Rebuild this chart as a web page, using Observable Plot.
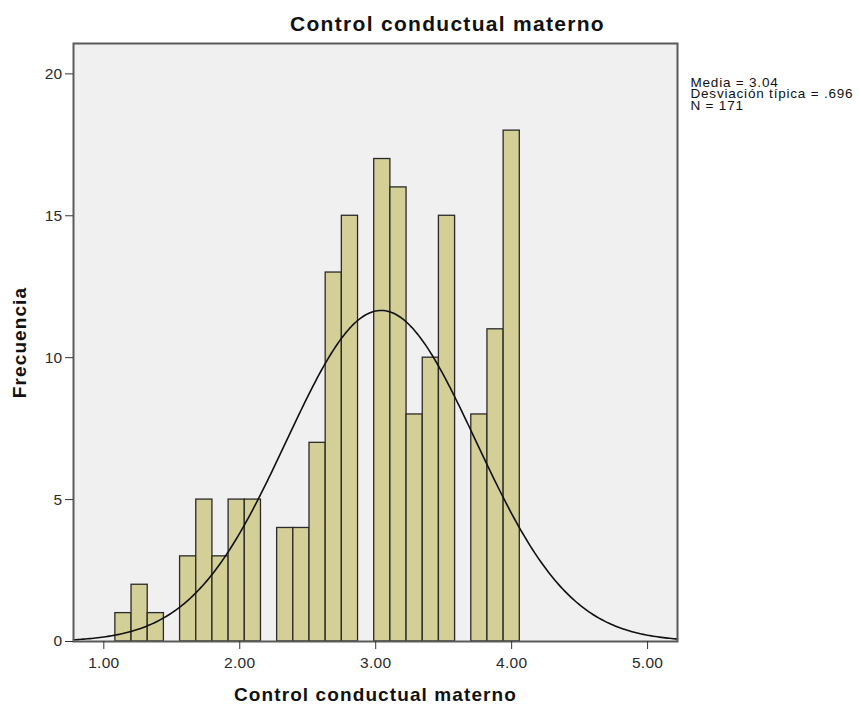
<!DOCTYPE html>
<html>
<head>
<meta charset="utf-8">
<script src="https://cdn.jsdelivr.net/npm/d3@7"></script>
<script src="https://cdn.jsdelivr.net/npm/@observablehq/plot@0.6"></script>
<style>
  body { margin: 0; background: #fff; }
  #chart { width: 859px; height: 706px; }
</style>
</head>
<body>
<div id="chart"></div>
<script>
// Bin edges and counts
const binStarts = [1.085, 1.204, 1.323, 1.442, 1.561, 1.680, 1.799, 1.918, 2.037, 2.156,
                   2.275, 2.394, 2.513, 2.632, 2.751, 2.870, 2.989, 3.108, 3.227, 3.346,
                   3.465, 3.584, 3.703, 3.822, 3.941];
const binEnds   = [1.204, 1.323, 1.442, 1.561, 1.680, 1.799, 1.918, 2.037, 2.156, 2.275,
                   2.394, 2.513, 2.632, 2.751, 2.870, 2.989, 3.108, 3.227, 3.346, 3.465,
                   3.584, 3.703, 3.822, 3.941, 4.060];
const counts    = [1, 2, 1, 0, 3, 5, 3, 5, 5, 0,
                   4, 4, 7, 13, 15, 0, 17, 16, 8, 10,
                   15, 0, 8, 11, 18];
const xTicks = [1, 2, 3, 4, 5];
const xTickLabels = ["1.00", "2.00", "3.00", "4.00", "5.00"];
const yTicks = [0, 5, 10, 15, 20];
const yTickLabels = ["0", "5", "10", "15", "20"];
const statsLines = ["Media = 3.04", "Desviación típica = .696", "N = 171"];
const mean = 3.04, sd = 0.696, N = 171;
const title = "Control conductual materno";
const xLabel = "Control conductual materno";
const yLabel = "Frecuencia";

const bars = counts.map((c, i) => ({x1: binStarts[i], x2: binEnds[i], y: c})).filter(d => d.y > 0);
const binWidth = (binEnds[binEnds.length - 1] - binStarts[0]) / counts.length;
const xDomain = [0.777, 5.22];
// fitted normal curve from the stated mean, sd and N
const curve = d3.range(0, 301).map(i => {
  const x = xDomain[0] + (xDomain[1] - xDomain[0]) * i / 300;
  const z = (x - mean) / sd;
  return {x, y: N * binWidth * Math.exp(-0.5 * z * z) / (sd * Math.sqrt(2 * Math.PI))};
});
const xTickData = xTicks.map((v, i) => ({v, label: xTickLabels[i]}));
const yTickData = yTicks.map((v, i) => ({v, label: yTickLabels[i]}));

const font = "'Liberation Sans', Arial, sans-serif";
const plot = Plot.plot({
  width: 859,
  height: 706,
  marginLeft: 73,
  marginTop: 43,
  marginRight: 182,
  marginBottom: 65,
  style: {fontFamily: font, fontSize: "15px", color: "#2a2a2a", background: "#fff", overflow: "visible"},
  x: {domain: xDomain},
  y: {domain: [0, 21.07]},
  marks: [
    Plot.frame({fill: "#f0f0f0", stroke: null}),
    Plot.rectY(bars, {x1: "x1", x2: "x2", y: "y", fill: "#d3cf97", stroke: "#2a2a2a", strokeWidth: 1.3}),
    Plot.line(curve, {x: "x", y: "y", stroke: "#111", strokeWidth: 1.6}),
    Plot.frame({stroke: "#5a5a5a", strokeWidth: 2}),
    Plot.axisX({ticks: xTicks, tickFormat: () => "", tickSize: 8, label: null, stroke: "#333"}),
    Plot.axisY({ticks: yTicks, tickFormat: () => "", tickSize: 8, label: null, stroke: "#333"}),
    Plot.text(xTickData, {x: "v", text: "label", frameAnchor: "bottom", dy: 21.5, lineAnchor: "middle", textAnchor: "middle", fontSize: 15.5, fill: "#2a2a2a"}),
    Plot.text(yTickData, {y: "v", text: "label", frameAnchor: "left", dx: -11, lineAnchor: "middle", textAnchor: "end", fontSize: 15.5, fill: "#2a2a2a"}),
    Plot.text([title], {frameAnchor: "top", dx: 72, dy: -19, lineAnchor: "middle", textAnchor: "middle", text: d => d, fontSize: 21, fontWeight: "bold", fill: "#111"}),
    Plot.text([xLabel], {frameAnchor: "bottom", dy: 53, lineAnchor: "middle", textAnchor: "middle", text: d => d, fontSize: 19, fontWeight: "bold", fill: "#111"}),
    Plot.text([yLabel], {frameAnchor: "left", dx: -54, rotate: -90, lineAnchor: "middle", textAnchor: "middle", text: d => d, fontSize: 19, fontWeight: "bold", fill: "#111"}),
    Plot.text([statsLines[0]], {frameAnchor: "top-right", dx: 13, dy: 43, textAnchor: "start", lineAnchor: "bottom", text: d => d, fontSize: 13.5, fill: "#111"}),
    Plot.text([statsLines[1]], {frameAnchor: "top-right", dx: 13, dy: 54.5, textAnchor: "start", lineAnchor: "bottom", text: d => d, fontSize: 13.5, fill: "#111"}),
    Plot.text([statsLines[2]], {frameAnchor: "top-right", dx: 13, dy: 66, textAnchor: "start", lineAnchor: "bottom", text: d => d, fontSize: 13.5, fill: "#111"})
  ]
});
// letter spacing to mimic the wider reference typography
d3.select(plot).selectAll("text").each(function() {
  const t = this.textContent;
  const s = d3.select(this);
  if (xTickLabels.includes(t) || yTickLabels.includes(t)) s.style("letter-spacing", "0.3px");
  else if (t === xLabel || t === yLabel) s.style("letter-spacing", "1.1px");
  else if (statsLines.includes(t)) s.style("letter-spacing", "0.8px");
});
d3.select(plot).selectAll("g[font-size='21'] text").style("letter-spacing", "1.3px");
document.getElementById("chart").appendChild(plot);
</script>
</body>
</html>
